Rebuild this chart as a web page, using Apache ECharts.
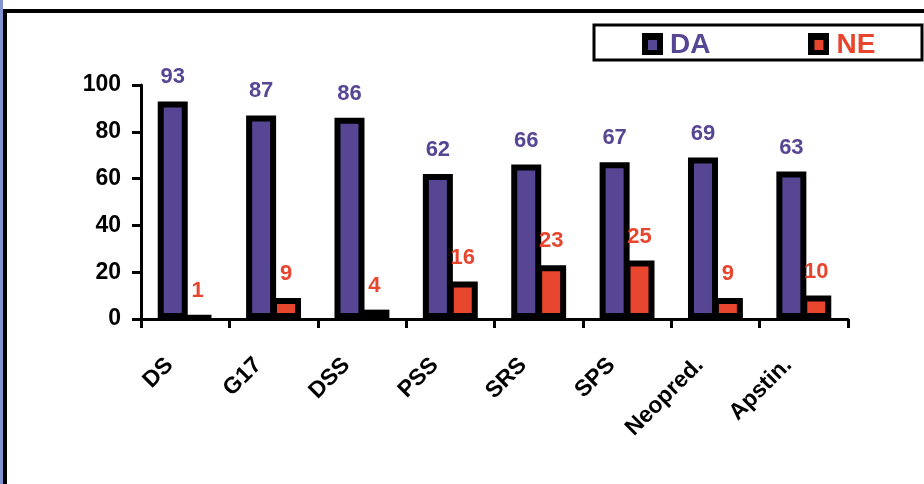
<!DOCTYPE html>
<html>
<head>
<meta charset="utf-8">
<script src="https://cdn.jsdelivr.net/npm/echarts@6/dist/echarts.min.js"></script>
<style>
html,body{margin:0;padding:0;background:#fff;}
#c{width:924px;height:484px;}
</style>
</head>
<body>
<div id="c"></div>
<script>
const categories = ['DS', 'G17', 'DSS', 'PSS', 'SRS', 'SPS', 'Neopred.', 'Apstin.'];
const daValues = [93, 87, 86, 62, 66, 67, 69, 63];
const neValues = [1, 9, 4, 16, 23, 25, 9, 10];
const seriesNames = ['DA', 'NE'];
const yTicks = [0, 20, 40, 60, 80, 100];

const FONT = '"Liberation Sans", Arial, Helvetica, sans-serif';
const DA_COLOR = '#574694';
const NE_COLOR = '#e8452e';

const chart = echarts.init(document.getElementById('c'), null, {renderer: 'canvas'});
const option = {
  backgroundColor: '#ffffff',
  animation: false,
  textStyle: {fontFamily: FONT},
  grid: {left: 141, right: 76, top: 85, bottom: 165, containLabel: false},
  legend: {
    data: seriesNames.map((n, i) => ({
      name: n,
      textStyle: {color: i === 0 ? DA_COLOR : NE_COLOR}
    })),
    left: 648,
    top: 31,
    padding: 0,
    icon: 'rect',
    itemWidth: 9,
    itemHeight: 10,
    itemGap: 104,
    itemStyle: {borderWidth: 0},
    textStyle: {fontFamily: FONT, fontSize: 28, fontWeight: 'bold', padding: [0, 0, 0, 8]}
  },
  xAxis: {
    type: 'category',
    data: categories,
    axisLine: {lineStyle: {color: '#000', width: 3}},
    axisTick: {show: true, length: 9, lineStyle: {color: '#000', width: 3}},
    axisLabel: {
      interval: 0, rotate: 45, margin: 27,
      color: '#000', fontFamily: FONT, fontSize: 23, fontWeight: 'bold',
      padding: [0, 22, 0, 0]
    }
  },
  yAxis: {
    type: 'value',
    min: yTicks[0],
    max: yTicks[yTicks.length - 1],
    interval: yTicks[1] - yTicks[0],
    axisLine: {show: true, lineStyle: {color: '#000', width: 3}},
    axisTick: {show: true, length: 9, lineStyle: {color: '#000', width: 3}},
    splitLine: {show: false},
    axisLabel: {margin: 20, color: '#000', fontFamily: FONT, fontSize: 23, fontWeight: 'bold'}
  },
  series: [
    {
      name: seriesNames[0], type: 'bar', data: daValues,
      barWidth: 30, barGap: '-17%',
      itemStyle: {color: DA_COLOR, borderColor: '#000', borderWidth: 6},
      label: {show: true, position: 'top', distance: 13, color: DA_COLOR,
        fontFamily: FONT, fontSize: 22, fontWeight: 'bold'}
    },
    {
      name: seriesNames[1], type: 'bar', data: neValues,
      barWidth: 30, barGap: '-17%',
      itemStyle: {color: NE_COLOR, borderColor: '#000', borderWidth: 6},
      label: {show: true, position: 'top', distance: 13, color: NE_COLOR,
        fontFamily: FONT, fontSize: 22, fontWeight: 'bold'}
    }
  ],
  graphic: [
    {type: 'rect', shape: {x: 0, y: 0, width: 3, height: 484}, style: {fill: '#8393cf'}, z: 100},
    {type: 'rect', shape: {x: 3, y: 9, width: 4, height: 475}, style: {fill: '#000'}, z: 100},
    {type: 'rect', shape: {x: 3, y: 9, width: 921, height: 4}, style: {fill: '#000'}, z: 100},
    {type: 'rect', shape: {x: 594, y: 25, width: 328, height: 35}, style: {fill: 'none', stroke: '#000', lineWidth: 3}, z: 100},
    {type: 'rect', shape: {x: 642, y: 33, width: 21, height: 22}, style: {fill: '#000'}, z: 1},
    {type: 'rect', shape: {x: 808, y: 33, width: 21, height: 22}, style: {fill: '#000'}, z: 1}
  ]
};
chart.setOption(option);
</script>
</body>
</html>
